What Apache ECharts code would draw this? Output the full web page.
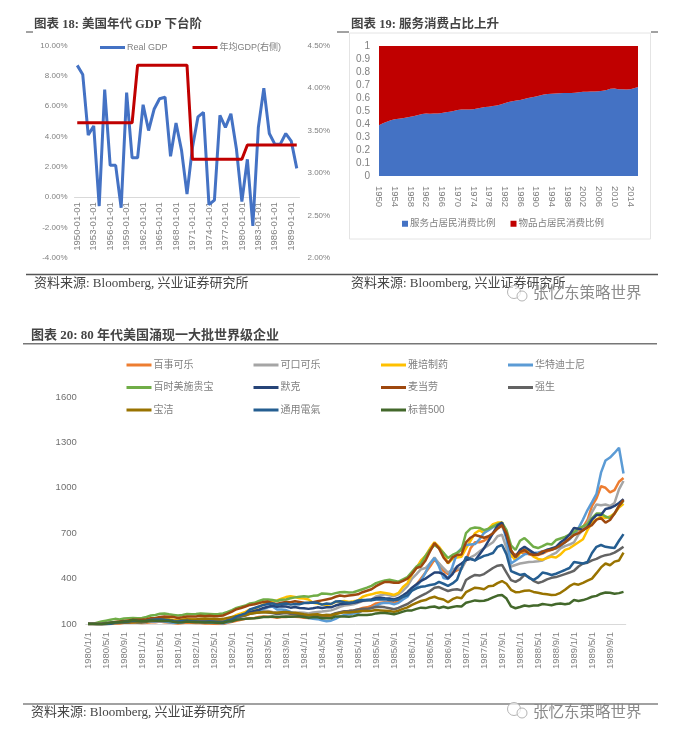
<!DOCTYPE html>
<html>
<head>
<meta charset="utf-8">
<style>
html,body{margin:0;padding:0;background:#fff;}
#main{width:685px;height:737px;}
</style>
<script src="https://cdn.jsdelivr.net/npm/echarts@6/dist/echarts.min.js"></script>
</head>
<body>
<div id="main"></div>
<script>
// 图表18
var gdpYears = [];
for (var y = 1950; y <= 1990; y++) gdpYears.push(y + '-01-01');
var realGdp = [8.7,8.1,4.1,4.7,-0.6,7.1,2.1,2.1,-0.7,6.9,2.6,2.6,6.1,4.4,5.8,6.5,6.6,2.7,4.9,3.1,0.2,3.3,5.3,5.6,-0.5,-0.2,5.4,4.6,5.5,3.2,-0.3,2.5,-1.9,4.6,7.2,4.2,3.5,3.5,4.2,3.7,1.9];
var avgGdp = [3.59,3.59,3.59,3.59,3.59,3.59,3.59,3.59,3.59,3.59,3.59,4.27,4.27,4.27,4.27,4.27,4.27,4.27,4.27,4.27,4.27,3.16,3.16,3.16,3.16,3.16,3.16,3.16,3.16,3.16,3.16,3.33,3.33,3.33,3.33,3.33,3.33,3.33,3.33,3.33,3.33];

// 图表19
var shareYears = [];
for (var s = 1950; s <= 2016; s++) shareYears.push(String(s));
var serviceShare = [.39,.405,.418,.428,.436,.44,.445,.45,.456,.462,.47,.477,.48,.479,.48,.481,.484,.49,.494,.5,.508,.512,.512,.512,.514,.52,.525,.53,.533,.538,.542,.55,.56,.57,.575,.58,.585,.592,.6,.605,.612,.62,.627,.63,.632,.634,.636,.638,.639,.638,.64,.645,.648,.648,.65,.65,.652,.656,.662,.672,.673,.668,.667,.665,.668,.675,.685];
var goodsShare = [.61,.595,.582,.572,.564,.56,.555,.55,.544,.538,.53,.523,.52,.521,.52,.519,.516,.51,.506,.5,.492,.488,.488,.488,.486,.48,.475,.47,.467,.462,.458,.45,.44,.43,.425,.42,.415,.408,.4,.395,.388,.38,.373,.37,.368,.366,.364,.362,.361,.362,.36,.355,.352,.352,.35,.35,.348,.344,.338,.328,.327,.332,.333,.335,.332,.325,.315];

// 图表20
var months = [];
for (var yy = 1980; yy <= 1989; yy++) {
    for (var mm = 1; mm <= 12; mm++) months.push(yy + '/' + mm + '/1');
}
var stockTicks = [100,400,700,1000,1300,1600];
var pepsi = [100,100,98,96,98,100,104,104,108,110,108,108,
    106,108,112,112,116,112,110,106,104,106,110,108,
    106,106,104,104,102,100,100,108,114,122,128,134,
    138,140,146,150,148,146,142,146,146,150,148,146,
    142,140,144,150,148,150,152,166,176,182,186,190,
    196,206,210,220,236,240,244,244,240,250,272,290,
    330,360,400,440,480,525,500,450,430,440,455,470,
    520,600,640,640,650,670,700,735,745,690,545,560,
    570,572,560,552,556,565,580,590,602,620,640,660,
    700,720,740,787,880,930,1010,1000,970,985,1040,1065];
var coke = [100,100,96,96,100,104,108,110,112,116,114,112,
    112,114,118,120,122,118,116,112,110,114,118,116,
    114,114,112,112,110,108,108,120,128,142,156,170,
    180,178,186,190,186,180,176,180,176,170,174,176,
    174,170,176,180,182,186,190,200,214,222,226,230,
    240,252,254,262,282,290,296,290,284,296,320,350,
    400,430,462,470,500,540,500,470,440,460,470,462,
    520,540,556,580,600,620,640,680,690,600,480,490,
    500,505,510,512,515,520,540,556,570,600,615,625,
    640,690,720,770,840,890,885,890,880,900,990,1045];
var abbott = [100,100,98,96,100,104,110,112,116,120,124,120,
    120,124,130,134,138,136,132,126,122,128,134,130,
    130,130,128,128,124,122,122,134,144,160,170,180,
    196,200,214,230,240,250,256,268,278,284,278,270,
    268,262,240,236,230,226,232,246,248,252,246,250,
    256,280,290,296,305,310,305,300,292,305,345,370,
    430,470,520,550,600,640,610,570,500,530,540,545,
    600,650,700,720,700,730,760,770,770,700,560,520,
    570,590,580,545,530,525,535,545,540,560,590,600,
    620,640,660,720,770,790,810,800,810,830,870,895];
var disney = [100,100,96,94,98,100,106,108,112,114,116,112,
    112,114,118,116,120,116,112,108,108,112,116,118,
    116,116,114,110,108,106,104,112,120,134,150,160,
    180,176,190,200,210,216,196,196,192,180,170,160,
    150,140,135,132,125,118,122,134,150,160,165,170,
    172,190,195,205,222,235,240,238,230,240,262,280,
    325,350,385,440,500,536,480,404,398,480,569,600,
    622,625,628,660,701,720,740,755,760,660,500,520,
    540,560,565,570,572,580,590,595,600,615,640,660,
    690,734,790,853,906,960,1100,1180,1200,1230,1265,1095];
var bms = [100,100,108,116,122,128,134,130,136,138,140,138,
    140,146,156,160,168,170,164,160,156,160,166,164,
    166,170,168,166,164,166,170,180,192,206,214,222,
    236,240,252,262,262,258,252,260,262,270,276,280,
    284,280,286,288,302,300,296,304,310,312,308,310,
    320,330,340,352,370,380,388,392,386,380,395,410,
    445,480,500,550,590,622,600,570,536,556,570,590,
    701,730,738,735,720,730,745,760,770,720,620,589,
    650,668,640,610,602,615,630,625,655,665,675,690,
    708,730,745,760,800,830,830,810,800,830,880,915];
var merck = [100,100,100,100,102,106,110,108,110,112,116,114,
    114,118,124,128,130,128,126,120,118,122,126,122,
    120,120,118,118,114,112,112,122,130,146,156,166,
    180,186,194,206,214,220,214,218,216,208,212,206,
    204,200,204,210,206,210,210,222,230,234,236,240,
    246,254,258,262,270,274,270,268,262,272,290,310,
    340,362,385,400,420,440,440,430,400,430,480,500,
    523,530,520,560,600,650,700,750,770,680,580,543,
    590,610,590,570,560,570,590,600,609,640,660,690,
    734,730,720,740,790,820,820,860,866,880,900,925];
var mcdonalds = [100,100,100,100,104,108,114,116,120,124,128,128,
    128,132,138,140,146,150,148,146,140,144,150,150,
    150,154,152,154,152,152,156,168,182,198,206,216,
    226,230,238,246,248,238,232,240,246,244,250,246,
    240,238,244,250,256,262,268,280,288,284,288,292,
    296,310,320,330,350,365,378,378,372,372,385,400,
    430,470,480,520,580,635,600,540,503,540,556,560,
    640,670,688,680,670,680,700,730,754,700,590,543,
    575,589,565,556,560,580,585,590,602,620,640,665,
    688,700,720,740,754,790,800,770,787,830,880,919];
var jnj = [100,100,100,102,106,108,110,108,112,116,120,118,
    118,122,128,130,132,128,124,118,116,120,122,122,
    122,124,122,124,120,118,116,126,132,142,150,156,
    168,172,176,180,176,172,166,170,172,168,166,160,
    156,156,158,160,156,160,160,172,178,184,186,190,
    196,200,200,206,212,214,210,204,198,206,220,232,
    252,270,286,300,318,340,344,330,318,326,330,322,
    391,410,424,420,430,450,470,485,490,440,390,378,
    395,424,410,385,371,380,395,405,410,420,430,440,
    452,480,500,505,520,530,545,555,560,572,590,610];
var pg = [100,100,98,96,100,102,106,108,110,112,114,112,
    112,116,120,122,126,128,126,122,122,126,130,130,
    130,134,136,134,134,132,134,140,146,152,156,160,
    168,172,176,178,180,176,174,178,180,176,174,170,
    164,160,162,164,158,160,158,166,172,178,176,180,
    182,186,186,188,192,190,188,186,180,188,200,210,
    226,240,252,258,272,280,268,262,244,264,276,270,
    310,326,340,336,330,350,352,370,384,366,326,310,
    312,320,322,312,306,300,296,292,294,306,326,350,
    366,360,372,386,400,436,474,500,488,512,520,572];
var ge = [100,100,98,96,98,102,110,112,114,116,122,120,
    118,120,126,128,130,126,124,118,116,120,122,118,
    116,114,114,116,114,110,110,122,130,150,160,170,
    196,206,216,226,232,236,226,232,236,228,232,230,
    238,240,242,240,228,236,232,248,250,244,240,244,
    256,258,258,256,262,262,264,258,256,262,280,290,
    320,336,346,350,358,362,378,366,352,368,392,470,
    543,530,520,536,550,558,569,610,622,560,450,437,
    424,430,405,391,410,440,434,424,432,445,457,470,
    510,505,500,510,569,610,622,610,606,602,650,694];
var sp500 = [100,100,98,100,104,108,112,114,116,118,126,122,
    120,120,124,122,122,120,120,114,110,112,116,114,
    112,112,110,112,110,108,108,116,118,128,132,134,
    136,138,142,146,146,150,146,148,150,148,150,150,
    146,142,144,144,138,140,138,150,150,150,148,152,
    160,160,160,162,170,172,172,170,164,172,182,190,
    190,200,208,205,212,216,206,214,206,212,218,216,
    240,248,256,252,254,262,276,288,292,268,216,204,
    212,222,218,222,222,232,228,224,232,236,230,236,
    258,252,258,268,280,286,300,308,306,300,304,312];

var greyText = '#808080';
var cjk = '"Liberation Sans","Noto Sans CJK SC",sans-serif';
var serifCjk = '"Liberation Serif","Noto Sans CJK SC",serif';

function stockLine(name, values, color) {
    return {
        name: name,
        type: 'line',
        xAxisIndex: 2,
        yAxisIndex: 3,
        data: values,
        symbol: 'none',
        color: color,
        lineStyle: { color: color, width: 2.5 },
        emphasis: { disabled: true }
    };
}

function stockLegend(left, names) {
    return {
        orient: 'vertical',
        left: left,
        top: 355,
        itemGap: 12.5,
        itemWidth: 25,
        itemHeight: 3,
        icon: 'rect',
        data: names,
        textStyle: { color: greyText, fontSize: 10, fontFamily: cjk, padding: [0, 0, 0, -3] }
    };
}

function pageText(text, x, y, size, color) {
    return {
        type: 'text',
        x: x,
        y: y,
        silent: true,
        style: { text: text, fill: color, font: size, textVerticalAlign: 'middle' }
    };
}

function pageLine(x1, y1, x2, y2, color, width) {
    return {
        type: 'line',
        silent: true,
        shape: { x1: x1, y1: y1, x2: x2, y2: y2 },
        style: { stroke: color, lineWidth: width }
    };
}

function bubble(cx, cy, r) {
    return {
        type: 'circle',
        silent: true,
        shape: { cx: cx, cy: cy, r: r },
        style: { fill: 'rgba(255,255,255,0.7)', stroke: '#b5b5b5', lineWidth: 1 }
    };
}

var titleFont = 'bold 12.5px ' + serifCjk;
var title3Font = 'bold 13px ' + serifCjk;
var sourceFont = '13px ' + serifCjk;
var markFont = '15.5px "Noto Sans CJK SC",sans-serif';

var myChart = echarts.init(document.getElementById('main'));
var option = {
    backgroundColor: '#fff',
    animation: false,
    grid: [
        { left: 74.5, top: 45.7, width: 225, height: 212 },
        { left: 379, top: 46, width: 259, height: 130 },
        { left: 85.75, top: 397, width: 540, height: 227 }
    ],
    legend: [
        { left: 95, top: 38, itemWidth: 25, itemHeight: 3, itemGap: 25, icon: 'rect',
          data: ['Real GDP', '年均GDP(右侧)'],
          textStyle: { color: greyText, fontSize: 9, fontFamily: cjk, padding: [0, 0, 0, -3] } },
        { left: 397, top: 214, itemWidth: 6, itemHeight: 6, itemGap: 15, icon: 'rect',
          data: ['服务占居民消费比例', '物品占居民消费比例'],
          textStyle: { color: greyText, fontSize: 9.5, fontFamily: cjk, padding: [0, 0, 0, -3] } },
        stockLegend(121.5, ['百事可乐', '百时美施贵宝', '宝洁']),
        stockLegend(248.5, ['可口可乐', '默克', '通用電氣']),
        stockLegend(376, ['雅培制药', '麦当劳', '标普500']),
        stockLegend(503, ['华特迪士尼', '强生'])
    ],
    xAxis: [
        {
            gridIndex: 0,
            type: 'category',
            data: gdpYears,
            // 轴和标签都放在0%的位置
            offset: -60.6,
            axisLine: { onZero: false, lineStyle: { color: '#d9d9d9' } },
            axisTick: { show: false },
            axisLabel: { interval: 2, rotate: 90, margin: 5, color: greyText, fontSize: 9.5, fontFamily: cjk }
        },
        {
            gridIndex: 1,
            type: 'category',
            boundaryGap: false,
            data: shareYears,
            axisLine: { show: false },
            axisTick: { show: false },
            axisLabel: { interval: 3, rotate: -90, margin: 10, color: greyText, fontSize: 9.5, fontFamily: cjk }
        },
        {
            gridIndex: 2,
            type: 'category',
            data: months,
            axisLine: { lineStyle: { color: '#d9d9d9' } },
            axisTick: { show: false },
            axisLabel: { interval: 3, rotate: 90, margin: 8, color: greyText, fontSize: 9.5, fontFamily: cjk }
        }
    ],
    yAxis: [
        {
            gridIndex: 0,
            type: 'value',
            min: -4,
            max: 10,
            interval: 2,
            splitLine: { show: false },
            axisLine: { show: false },
            axisTick: { show: false },
            axisLabel: { margin: 7, color: greyText, fontSize: 8, fontFamily: cjk, formatter: function (v) { return v.toFixed(2) + '%'; } }
        },
        {
            gridIndex: 0,
            type: 'value',
            position: 'right',
            min: 2,
            max: 4.5,
            interval: 0.5,
            splitLine: { show: false },
            axisLine: { show: false },
            axisTick: { show: false },
            axisLabel: { margin: 8, color: greyText, fontSize: 8, fontFamily: cjk, formatter: function (v) { return v.toFixed(2) + '%'; } }
        },
        {
            gridIndex: 1,
            type: 'value',
            min: 0,
            max: 1,
            interval: 0.1,
            splitLine: { show: false },
            axisLine: { show: false },
            axisTick: { show: false },
            axisLabel: { margin: 9, color: greyText, fontSize: 10, fontFamily: cjk }
        },
        {
            gridIndex: 2,
            type: 'value',
            min: 100,
            max: 1600,
            splitLine: { show: false },
            axisLine: { show: false },
            axisTick: { show: false },
            axisLabel: { margin: 9, color: '#6f6f6f', fontSize: 9.5, fontFamily: cjk, customValues: stockTicks, formatter: function (v) { return String(v); } }
        }
    ],
    series: [
        { name: 'Real GDP', type: 'line', xAxisIndex: 0, yAxisIndex: 0, data: realGdp, symbol: 'none',
          color: '#4472c4', lineStyle: { color: '#4472c4', width: 3 } },
        { name: '年均GDP(右侧)', type: 'line', xAxisIndex: 0, yAxisIndex: 1, data: avgGdp, symbol: 'none',
          color: '#c00000', lineStyle: { color: '#c00000', width: 3 } },
        { name: '服务占居民消费比例', type: 'line', stack: 'share', xAxisIndex: 1, yAxisIndex: 2, data: serviceShare, symbol: 'none',
          color: '#4472c4', lineStyle: { width: 0 }, areaStyle: { color: '#4472c4', opacity: 1 } },
        { name: '物品占居民消费比例', type: 'line', stack: 'share', xAxisIndex: 1, yAxisIndex: 2, data: goodsShare, symbol: 'none',
          color: '#c00000', lineStyle: { width: 0 }, areaStyle: { color: '#c00000', opacity: 1 } },
        stockLine('百事可乐', pepsi, '#ed7d31'),
        stockLine('可口可乐', coke, '#a5a5a5'),
        stockLine('雅培制药', abbott, '#ffc000'),
        stockLine('华特迪士尼', disney, '#5b9bd5'),
        stockLine('百时美施贵宝', bms, '#70ad47'),
        stockLine('默克', merck, '#264478'),
        stockLine('麦当劳', mcdonalds, '#9e480e'),
        stockLine('强生', jnj, '#636363'),
        stockLine('宝洁', pg, '#997300'),
        stockLine('通用電氣', ge, '#255e91'),
        stockLine('标普500', sp500, '#43682b')
    ],
    graphic: [
        // 图表19外框放在最底层
        { type: 'rect', z: -1, silent: true, shape: { x: 349.5, y: 33, width: 301, height: 206 },
          style: { fill: 'none', stroke: '#e4e4e4', lineWidth: 1 } },
        pageLine(26, 32, 33, 32, '#444', 1),
        pageLine(337, 32, 349, 32, '#444', 1),
        pageLine(651, 32, 658, 32, '#444', 1),
        pageLine(26, 274.5, 658, 274.5, '#555', 1.5),
        pageLine(23, 343.7, 657, 343.7, '#777', 1.5),
        pageLine(23, 704, 658, 704, '#444', 1.2),
        pageText('图表 18: 美国年代 GDP 下台阶', 34, 25, titleFont, '#444'),
        pageText('图表 19: 服务消费占比上升', 351, 25, titleFont, '#444'),
        pageText('图表 20: 80 年代美国涌现一大批世界级企业', 31, 336, title3Font, '#444'),
        pageText('资料来源: Bloomberg, 兴业证券研究所', 34, 284, sourceFont, '#444'),
        pageText('资料来源: Bloomberg, 兴业证券研究所', 351, 284, sourceFont, '#444'),
        pageText('资料来源: Bloomberg, 兴业证券研究所', 31, 713, sourceFont, '#444'),
        bubble(514, 292, 6.5),
        bubble(522, 296, 5),
        pageText('张忆东策略世界', 533, 292, markFont, '#8a8a8a'),
        bubble(514, 709, 6.5),
        bubble(522, 713, 5),
        pageText('张忆东策略世界', 533, 711, markFont, '#8a8a8a')
    ]
};
myChart.setOption(option);
</script>
</body>
</html>
